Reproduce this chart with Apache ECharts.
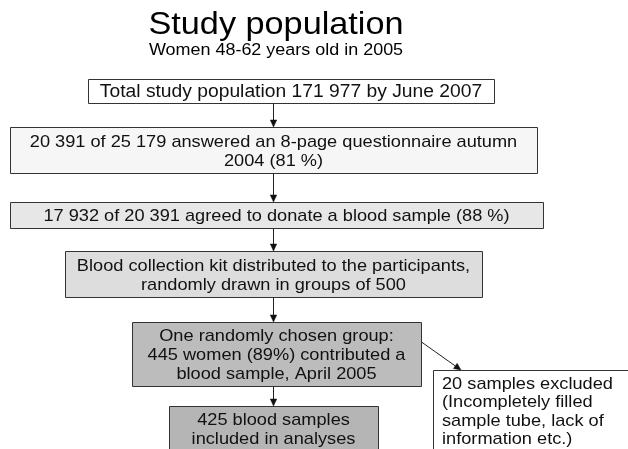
<!DOCTYPE html>
<html><head><meta charset="utf-8">
<script src="https://cdn.jsdelivr.net/npm/echarts@6/dist/echarts.min.js"></script>
<style>html,body{margin:0;padding:0;background:#fff}#c{width:628px;height:449px}</style>
</head><body><div id="c"></div>
<script>
// ---- content ----
const chartTitle = 'Study population';
const chartSubtitle = 'Women 48-62 years old in 2005';
const boxTexts = [
  'Total study population 171 977 by June 2007',
  '20 391 of 25 179 answered an 8-page questionnaire autumn\n2004 (81 %)',
  '17 932 of 20 391 agreed to donate a blood sample (88 %)',
  'Blood collection kit distributed to the participants,\nrandomly drawn in groups of 500',
  'One randomly chosen group:\n445 women (89%) contributed a\nblood sample, April 2005',
  '425 blood samples\nincluded in analyses',
  '20 samples excluded\n(Incompletely filled\nsample tube, lack of\ninformation etc.)'
];
// flow links: [from, to]
const links = [[0,1],[1,2],[2,3],[3,4],[4,5],[4,6]];

// ---- layout / style ----
const boxX = [88, 10, 10, 65, 132, 169, 433];
const boxY = [79, 127, 202, 251, 322, 406, 370];
const boxW = [406, 527, 533, 417, 289, 209, 210];
const boxH = [24, 46, 26, 46, 64, 45, 90];
const boxFill = ['#ffffff', '#f6f6f6', '#e7e7e7', '#dddddd', '#bcbcbc', '#b5b5b5', '#ffffff'];
const boxFont = [18, 17, 17, 17, 17, 17, 17];
const boxAlign = ['center','center','center','center','center','center','left'];
const FONT = '"Liberation Sans", Arial, Helvetica, sans-serif';
const SX = 1.07;
const LH = 19;
const mainX = 273;

const els = [];
els.push({type:'text', x:276, y:25.5, scaleX:SX, style:{text:chartTitle, x:0, y:0, align:'center', verticalAlign:'middle', textAlign:'center', textVerticalAlign:'middle', font:'32px ' + FONT, fill:'#000'}});
els.push({type:'text', x:276, y:50, scaleX:SX, style:{text:chartSubtitle, x:0, y:0, align:'center', verticalAlign:'middle', textAlign:'center', textVerticalAlign:'middle', font:'16.8px ' + FONT, fill:'#000'}});

boxTexts.forEach((t, i) => {
  els.push({type:'rect', shape:{x:boxX[i]+0.5, y:boxY[i]+0.5, width:boxW[i], height:boxH[i]}, style:{fill:boxFill[i], stroke:'#333', lineWidth:1}});
  const f = boxFont[i] + 'px ' + FONT;
  if (boxAlign[i] === 'center') {
    els.push({type:'text', x:boxX[i] + boxW[i]/2, y:boxY[i] + boxH[i]/2 + 1.5, scaleX:SX,
      style:{text:t, x:0, y:0, align:'center', verticalAlign:'middle', textAlign:'center', textVerticalAlign:'middle', font:f, lineHeight:LH, fill:'#111'}});
  } else {
    els.push({type:'text', x:boxX[i] + 9, y:boxY[i] + 5, scaleX:SX,
      style:{text:t, x:0, y:0, align:'left', verticalAlign:'top', textAlign:'left', textVerticalAlign:'top', font:f, lineHeight:18.5, fill:'#111'}});
  }
});

function arrow(x1, y1, x2, y2) {
  const a = Math.atan2(y2 - y1, x2 - x1);
  const L = 7, Wd = 3.2;
  const bx = x2 - L*Math.cos(a), by = y2 - L*Math.sin(a);
  const px = -Math.sin(a)*Wd, py = Math.cos(a)*Wd;
  els.push({type:'line', shape:{x1:x1, y1:y1, x2:bx, y2:by}, style:{stroke:'#222', lineWidth:1}});
  els.push({type:'polygon', shape:{points:[[x2,y2],[bx+px,by+py],[bx-px,by-py]]}, style:{fill:'#111', stroke:'#111', lineWidth:0.5}});
}
links.forEach(([f, t]) => {
  if (t === 6) {
    arrow(boxX[f] + boxW[f] + 0.5, boxY[f] + 20, 461, boxY[t]);
  } else {
    arrow(mainX + 0.5, boxY[f] + boxH[f] + 0.5, mainX + 0.5, boxY[t]);
  }
});

const chart = echarts.init(document.getElementById('c'), null, {renderer:'canvas'});
chart.setOption({animation:false, backgroundColor:'#fff', graphic:{elements:els}});
</script></body></html>
